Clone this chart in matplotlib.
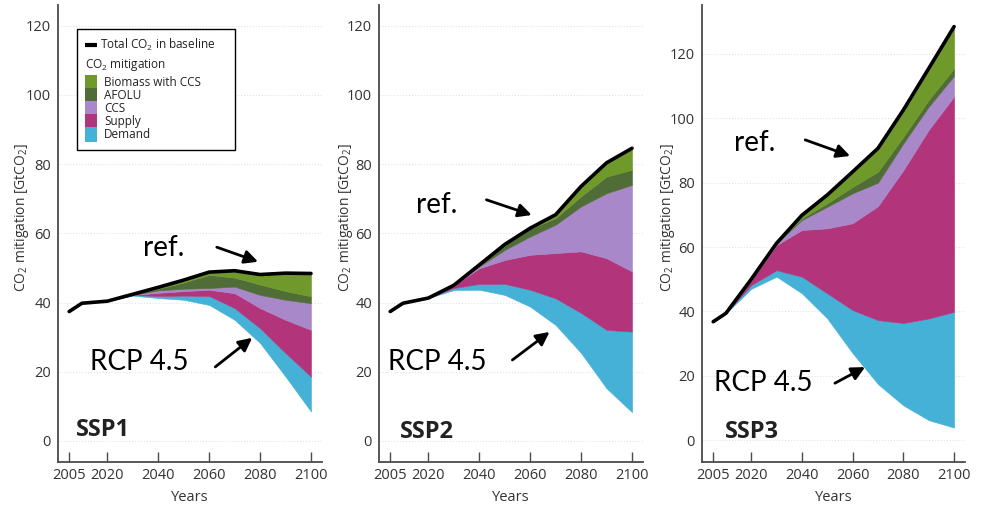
import numpy as np
import matplotlib
matplotlib.use('Agg')
import matplotlib.pyplot as plt
from matplotlib.lines import Line2D
from matplotlib.patches import Rectangle
from matplotlib.offsetbox import AnchoredOffsetbox, DrawingArea, HPacker, VPacker, TextArea

plt.rcParams['font.family'] = ['Open Sans', 'DejaVu Sans']
plt.rcParams['mathtext.fontset'] = 'custom'
plt.rcParams['mathtext.rm'] = 'Open Sans'
plt.rcParams['mathtext.it'] = 'Open Sans:italic'
plt.rcParams['mathtext.bf'] = 'Open Sans:bold'

# data (GtCO2)
years = [2005, 2010, 2020, 2030, 2040, 2050, 2060, 2070, 2080, 2090, 2100]
tick_years = [2005, 2020, 2040, 2060, 2080, 2100]
y_ticks = [0, 20, 40, 60, 80, 100, 120]
layer_names = ['Demand', 'Supply', 'CCS', 'AFOLU', 'Biomass with CCS']
layer_colors = ['#45b1d6', '#b2357b', '#a888c8', '#506c37', '#6f9a2b']
panel_names = ['SSP1', 'SSP2', 'SSP3']

# SSP1
baseline1 = [37.4, 39.8, 40.4, 42.4, 44.4, 46.5, 48.8, 49.2, 48.1, 48.5, 48.4]
demand1 = [0, 0, 0, 0.2, 0.6, 1.2, 2.6, 3.4, 4.3, 6.8, 10.1]
supply1 = [0, 0, 0, 0, 0.9, 1.3, 1.8, 4.3, 5.8, 9.6, 13.5]
ccs1 = [0, 0, 0, 0, 0.7, 0.7, 0.5, 1.9, 3.8, 5.8, 7.7]
afolu1 = [0, 0, 0, 0.1, 0.5, 1.8, 3.8, 2.6, 3.0, 2.5, 2.0]
biomass1 = [0, 0, 0, 0.1, 0.4, 0.7, 0.8, 2.0, 2.9, 5.2, 6.6]

# SSP2
baseline2 = [37.4, 39.8, 41.3, 45.0, 50.9, 56.8, 61.5, 65.4, 73.6, 80.4, 84.6]
demand2 = [0, 0, 0, 0.6, 1.7, 3.2, 4.9, 7.7, 11.6, 16.9, 23.3]
supply2 = [0, 0, 0, 0.8, 4.5, 6.9, 10.1, 13.1, 17.8, 20.7, 17.4]
ccs2 = [0, 0, 0, 0, 0.5, 2.9, 5.3, 8.2, 13.0, 18.8, 25.0]
afolu2 = [0, 0, 0, 0, 0.5, 1.6, 2.2, 1.9, 2.9, 4.8, 4.4]
biomass2 = [0, 0, 0, 0, 0, 0, 0.2, 1.0, 2.9, 4.0, 6.2]

# SSP3
baseline3 = [36.8, 39.4, 50.0, 61.2, 69.9, 76.2, 83.4, 90.7, 102.6, 115.5, 128.5]
demand3 = [0, 0, 1.2, 2.0, 5.2, 7.8, 13.4, 19.9, 25.6, 31.6, 36.0]
supply3 = [0, 0, 1.5, 7.8, 14.5, 20.2, 27.0, 35.4, 47.5, 58.6, 66.9]
ccs3 = [0, 0, 0.3, 0.6, 3.1, 6.7, 9.3, 7.3, 8.3, 7.2, 6.4]
afolu3 = [0, 0, 0, 0, 0.5, 1.1, 2.0, 3.4, 2.1, 2.1, 2.3]
biomass3 = [0, 0, 0, 0, 1.0, 2.6, 4.7, 7.3, 8.3, 9.8, 13.0]

baselines = [baseline1, baseline2, baseline3]
wedges = [[demand1, supply1, ccs1, afolu1, biomass1],
          [demand2, supply2, ccs2, afolu2, biomass2],
          [demand3, supply3, ccs3, afolu3, biomass3]]

# layout (figure fractions) and annotation placement per panel
axes_rects = [[0.0588, 0.0923, 0.2677, 0.8978],
              [0.3844, 0.0923, 0.2677, 0.8978],
              [0.7120, 0.0923, 0.2667, 0.8978]]
ylims = [(-6.1, 126), (-6.1, 126), (-6.8, 135.2)]
ref_text = [(2042, 55.8), (2023.1, 68.2), (2021.2, 92.3)]
ref_arrow = [((2063, 56), (2079.2, 51.8)), ((2042.8, 69.7), (2060.6, 65.3)), ((2041.3, 93.3), (2059, 88.3))]
rcp_text = [(2032.7, 22.8), (2023.5, 22.8), (2024.7, 17.7)]
rcp_arrow = [((2062.4, 21.4), (2076.9, 29.8)), ((2053, 23.4), (2067.6, 31.5)), ((2053, 17.7), (2064.9, 22.7))]
ssp_pos = [(2018.4, 3.2), (2019.6, 2.6), (2020.4, 2.5)]
ylabel_x = [-0.104, -0.092, -0.095]

fig = plt.figure(figsize=(9.86, 5.09), dpi=100)

axes = []
for i in range(3):
    ax = fig.add_axes(axes_rects[i])
    axes.append(ax)
    base = np.array(baselines[i])
    w = np.array(wedges[i])
    lower = base - w.sum(axis=0)  # RCP 4.5 pathway
    for k in range(len(layer_names)):
        upper = lower + w[k]
        ax.fill_between(years, lower, upper, color=layer_colors[k], lw=0.4, zorder=2)
        lower = upper
    ax.plot(years, baselines[i], color='black', lw=2.6, solid_joinstyle='round',
            solid_capstyle='round', zorder=3)

    ax.set_xlim(2000.6, 2104.3)
    ax.set_ylim(*ylims[i])
    ax.set_xticks(tick_years)
    ax.set_yticks(y_ticks)
    for s in ['top', 'right']:
        ax.spines[s].set_visible(False)
    for s in ['left', 'bottom']:
        ax.spines[s].set_color('#4a4a4a')
        ax.spines[s].set_linewidth(1.3)
    ax.tick_params(axis='x', direction='in', length=7, width=1, color='#4a4a4a',
                   labelsize=10.5, labelcolor='#333333', pad=4)
    ax.tick_params(axis='y', length=0, labelsize=10.5, labelcolor='#333333', pad=5)
    ax.yaxis.grid(True, color='#e2e2e2', lw=0.8, ls=':')
    ax.set_axisbelow(True)

    ax.set_ylabel('CO$_2$ mitigation [GtCO$_2$]', fontsize=10, color='#333333')
    ax.yaxis.set_label_coords(ylabel_x[i], 0.536)
    ax.set_xlabel('Years', fontsize=10.5, color='#333333')
    ax.xaxis.set_label_coords(0.5, -0.062)

    # annotations
    ax.text(*ref_text[i], 'ref.', family='Lato', fontsize=20, ha='center', va='center', zorder=5)
    ax.text(*rcp_text[i], 'RCP 4.5', family='Lato', fontsize=20, ha='center', va='center', zorder=5)
    for start, end in [ref_arrow[i], rcp_arrow[i]]:
        ax.annotate('', xy=end, xytext=start,
                    arrowprops=dict(arrowstyle='-|>', color='black', lw=2,
                                    mutation_scale=20, shrinkA=0, shrinkB=0), zorder=5)
    ax.text(*ssp_pos[i], panel_names[i], fontsize=17, fontweight='bold',
            color='#222222', ha='center', va='center')

# legend in the first panel
txt = dict(fontsize=8.5, color='#222222')
da = DrawingArea(8.5, 9)
da.add_artist(Line2D([0, 8.5], [4.5, 4.5], color='black', lw=3, solid_capstyle='butt'))
spacer = DrawingArea(6, 1)
row_total = HPacker(children=[da, TextArea('Total CO$_2$ in baseline', textprops=txt), spacer],
                    sep=2, align='center', pad=0)
header = TextArea('CO$_2$ mitigation', textprops=txt)
rows = []
for name, col in zip(layer_names[::-1], layer_colors[::-1]):
    d = DrawingArea(8.5, 9.0)
    d.add_artist(Rectangle((0, -0.8), 8.5, 10.8, color=col, lw=0))
    rows.append(HPacker(children=[d, TextArea(name, textprops=txt)], sep=5, align='center', pad=0))
block = VPacker(children=rows, sep=0, pad=0, align='left')
box = VPacker(children=[row_total, header, block], sep=2.5, pad=0, align='left')
anch = AnchoredOffsetbox(loc='upper left', child=box, pad=0.6, borderpad=0, frameon=True,
                         bbox_to_anchor=(0.072, 0.948), bbox_transform=axes[0].transAxes)
anch.patch.set_boxstyle('square', pad=0)
anch.patch.set_edgecolor('black')
anch.patch.set_linewidth(1)
axes[0].add_artist(anch)

fig.savefig('out.png', dpi=100)
